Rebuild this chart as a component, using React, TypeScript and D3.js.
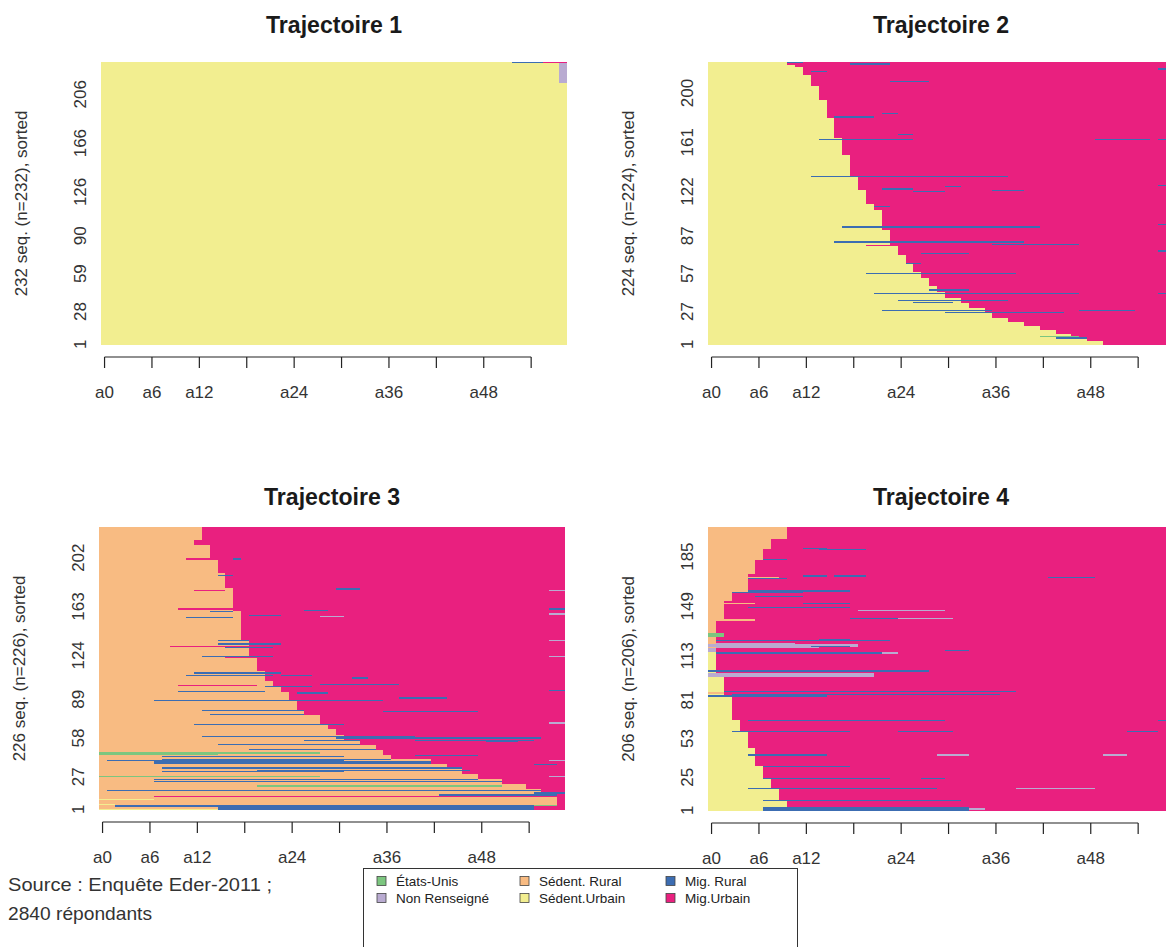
import React from 'react';
import * as d3 from 'd3';

// ---------- states ----------
const STATE_LABELS = ['États-Unis', 'Non Renseigné', 'Sédent. Rural', 'Sédent.Urbain', 'Mig. Rural', 'Mig.Urbain'];
const STATE_COLORS = ['#7cc67f', '#b9abd1', '#f8bb82', '#f2ee90', '#3c6db2', '#e9207f'];
const LEGEND_COLUMNS = [[0, 1], [2, 3], [4, 5]];

// ---------- time axis ----------
const N_COLS = 59;
const AGE_TICKS = [0, 6, 12, 18, 24, 30, 36, 42, 48, 54];
const AGE_TICK_LABELS = ['a0', 'a6', 'a12', '', 'a24', '', 'a36', '', 'a48', ''];

// ---------- Trajectoire 1 ----------
const T1_TITLE = 'Trajectoire 1';
const T1_N = 232;
const T1_YTICKS = [1, 28, 59, 90, 126, 166, 206];
const T1_BASE = [[1, 232, 3]]; // [rowFrom, rowTo, state]
const T1_BOUND: number[][] = []; // [rowFrom, rowTo, first Mig.Urbain column]
const T1_STREAKS = [ // [rowFrom, rowTo, colFrom, colTo, state]
  [232, 232, 52, 55, 4], [232, 232, 56, 58, 5], [216, 231, 58, 58, 1],
];

// ---------- Trajectoire 2 ----------
const T2_TITLE = 'Trajectoire 2';
const T2_N = 224;
const T2_YTICKS = [1, 27, 57, 87, 122, 161, 200];
const T2_BASE = [[1, 224, 3]];
const T2_BOUND = [
  [1, 3, 50], [4, 6, 48], [7, 9, 46], [10, 12, 44], [13, 15, 42], [16, 18, 40], [19, 21, 38],
  [22, 25, 36], [26, 29, 35], [30, 33, 33], [34, 37, 32], [38, 42, 30], [43, 47, 29], [48, 53, 28],
  [54, 58, 27], [59, 64, 26], [65, 71, 25], [72, 78, 24], [79, 91, 23], [92, 107, 22], [108, 112, 21],
  [113, 123, 20], [124, 134, 19], [135, 150, 18], [151, 164, 17], [165, 180, 16], [181, 194, 15],
  [195, 205, 14], [206, 214, 13], [215, 220, 12], [221, 222, 11], [223, 224, 10],
];
const T2_STREAKS = [
  [224, 224, 10, 11, 4], [223, 223, 18, 22, 4], [217, 217, 13, 14, 4], [209, 209, 23, 27, 4],
  [184, 184, 22, 23, 4], [181, 181, 16, 20, 4], [167, 167, 24, 25, 4], [163, 163, 14, 25, 4],
  [163, 163, 49, 55, 4], [134, 134, 13, 37, 4], [126, 126, 30, 31, 4], [124, 124, 22, 25, 4],
  [123, 123, 36, 39, 4], [122, 122, 26, 29, 4], [110, 110, 21, 22, 4], [94, 94, 17, 41, 4],
  [82, 82, 16, 39, 4], [80, 80, 36, 46, 4], [79, 79, 20, 22, 5], [73, 73, 27, 32, 4],
  [65, 65, 25, 26, 4], [57, 57, 20, 38, 4], [44, 44, 28, 32, 4], [41, 41, 21, 46, 4],
  [36, 36, 24, 37, 4], [34, 34, 26, 30, 4], [28, 28, 22, 35, 4], [28, 28, 47, 53, 4],
  [26, 26, 30, 44, 4], [7, 7, 42, 46, 0], [6, 6, 44, 47, 4],
  [219, 219, 57, 58, 4], [163, 163, 57, 58, 4], [127, 127, 57, 58, 4], [96, 96, 57, 58, 4],
  [75, 75, 57, 58, 4], [41, 41, 57, 58, 4],
];

// ---------- Trajectoire 3 ----------
const T3_TITLE = 'Trajectoire 3';
const T3_N = 226;
const T3_YTICKS = [1, 27, 58, 89, 124, 163, 202];
const T3_BASE = [[1, 226, 2]];
const T3_BOUND = [
  [1, 3, 55], [4, 13, 58], [14, 17, 56], [18, 21, 54], [22, 25, 51], [26, 29, 48], [30, 34, 46],
  [35, 37, 44], [38, 41, 42], [42, 44, 37], [45, 48, 36], [49, 52, 35], [53, 56, 33], [57, 60, 31],
  [61, 65, 30], [66, 69, 29], [70, 76, 28], [77, 80, 26], [81, 87, 25], [88, 94, 24], [95, 98, 23],
  [99, 103, 22], [104, 111, 21], [112, 122, 20], [123, 136, 19], [137, 159, 18], [160, 177, 17],
  [178, 189, 16], [190, 200, 15], [201, 212, 14], [213, 216, 12], [217, 226, 13],
];
const T3_STREAKS = [
  [201, 201, 11, 13, 5], [201, 201, 17, 17, 4], [188, 188, 15, 16, 4], [177, 177, 30, 32, 4],
  [176, 176, 12, 15, 5], [161, 161, 10, 16, 5], [160, 160, 26, 28, 4], [159, 159, 14, 16, 4],
  [156, 156, 19, 22, 4], [155, 155, 28, 30, 1], [154, 154, 11, 16, 4], [136, 136, 15, 18, 4],
  [133, 133, 15, 22, 4], [131, 131, 9, 20, 5], [130, 130, 16, 21, 4], [123, 123, 13, 21, 4],
  [122, 122, 16, 19, 5], [110, 110, 12, 22, 4], [108, 108, 11, 21, 4], [108, 108, 23, 26, 4],
  [106, 106, 32, 33, 4], [101, 101, 28, 37, 4], [100, 100, 10, 19, 5], [99, 99, 21, 26, 4],
  [95, 95, 10, 20, 4], [94, 94, 25, 28, 4], [90, 90, 38, 43, 4], [88, 88, 7, 35, 4],
  [80, 80, 13, 25, 4], [79, 79, 36, 47, 4], [77, 77, 14, 25, 4], [69, 69, 12, 30, 4],
  [59, 59, 13, 39, 4], [58, 58, 30, 55, 4], [56, 56, 26, 32, 4], [56, 56, 40, 54, 4],
  [55, 55, 49, 52, 4], [53, 53, 15, 32, 4], [49, 49, 19, 34, 4], [46, 46, 0, 27, 0],
  [45, 45, 0, 14, 0], [44, 44, 40, 47, 4], [43, 43, 8, 30, 4], [41, 41, 8, 36, 4],
  [40, 40, 1, 30, 4], [38, 39, 7, 41, 4], [37, 37, 55, 57, 4], [34, 34, 8, 45, 4],
  [32, 32, 20, 46, 4], [31, 31, 8, 30, 4], [27, 27, 0, 27, 0], [25, 25, 7, 47, 4],
  [23, 23, 7, 50, 4], [19, 20, 20, 50, 0], [16, 16, 1, 48, 4], [16, 16, 49, 55, 4],
  [12, 13, 43, 57, 4], [11, 11, 7, 57, 5], [9, 9, 0, 6, 3], [5, 5, 0, 1, 3],
  [3, 4, 2, 54, 4], [2, 2, 15, 54, 4], [1, 1, 0, 14, 3], [1, 1, 15, 54, 4], [4, 4, 55, 57, 0],
  [176, 176, 57, 58, 1], [161, 161, 57, 58, 4], [157, 157, 57, 58, 1], [136, 136, 57, 58, 1],
  [123, 123, 57, 58, 1], [96, 96, 57, 58, 4], [70, 70, 57, 58, 1], [40, 40, 57, 58, 1],
  [27, 27, 57, 58, 1], [14, 14, 55, 58, 4],
];

// ---------- Trajectoire 4 ----------
const T4_TITLE = 'Trajectoire 4';
const T4_N = 206;
const T4_YTICKS = [1, 25, 53, 81, 113, 149, 185];
const T4_BASE = [[1, 115, 3], [116, 206, 2]];
const T4_BOUND = [
  [1, 8, 10], [9, 17, 9], [18, 24, 8], [25, 33, 7], [34, 46, 6], [47, 57, 5], [58, 66, 4],
  [67, 84, 3], [85, 97, 2], [98, 100, 0], [101, 139, 1], [140, 152, 2], [153, 159, 3],
  [160, 172, 5], [173, 182, 6], [183, 190, 7], [191, 197, 8], [198, 206, 10],
];
const T4_STREAKS = [
  [191, 191, 12, 14, 4], [190, 190, 14, 19, 4], [183, 183, 7, 9, 4], [171, 171, 12, 14, 4],
  [171, 171, 16, 19, 4], [170, 170, 43, 48, 4], [170, 170, 5, 8, 2], [169, 169, 5, 9, 4],
  [160, 160, 5, 17, 4], [159, 159, 3, 11, 4], [156, 156, 6, 11, 4], [151, 151, 2, 5, 2],
  [151, 151, 12, 17, 4], [148, 148, 5, 17, 4], [146, 146, 19, 29, 1], [140, 140, 18, 23, 4],
  [140, 140, 24, 30, 1], [139, 139, 1, 5, 2], [127, 129, 0, 1, 0], [125, 125, 14, 17, 4],
  [124, 124, 1, 22, 4], [122, 122, 1, 10, 1], [120, 121, 0, 18, 1], [120, 120, 13, 17, 4],
  [119, 119, 1, 13, 1], [117, 117, 30, 32, 4], [116, 118, 0, 0, 1], [115, 115, 1, 21, 4],
  [115, 115, 22, 23, 1], [102, 102, 0, 27, 4], [98, 100, 0, 20, 1], [86, 86, 0, 1, 2],
  [87, 87, 2, 38, 4], [85, 85, 3, 36, 4], [84, 84, 0, 14, 4], [66, 66, 5, 29, 4],
  [66, 66, 57, 58, 4], [58, 58, 3, 17, 4], [58, 58, 24, 30, 4], [58, 58, 53, 56, 4],
  [41, 41, 5, 14, 4], [41, 41, 29, 32, 1], [41, 41, 50, 52, 1], [33, 33, 7, 17, 4],
  [24, 24, 7, 15, 4], [24, 24, 16, 22, 4], [24, 24, 27, 29, 4], [17, 17, 5, 28, 4],
  [17, 17, 39, 48, 1], [8, 8, 7, 31, 4], [1, 3, 7, 32, 4], [2, 2, 33, 34, 1],
];

// ---------- notes ----------
const SOURCE_LINES = ['Source : Enquête Eder-2011 ;', '2840 répondants'];
const SOURCE_WIDTHS = [264, 144];

// ---------- helpers ----------
function lookup(ranges: number[][], r: number, fallback: number) {
  const hit = ranges.find(([a, z]) => r >= a && r <= z);
  return hit ? hit[2] : fallback;
}

function buildGrid(n: number, base: number[][], bound: number[][], streaks: number[][]) {
  const grid: number[][] = [];
  for (let r = 1; r <= n; r++) {
    const b = lookup(base, r, 3);
    const cut = lookup(bound, r, N_COLS);
    grid.push(d3.range(N_COLS).map((c) => (c < cut ? b : 5)));
  }
  streaks.forEach(([a, z, c0, c1, s]) => {
    for (let r = a; r <= z; r++) for (let c = c0; c <= c1; c++) grid[r - 1][c] = s;
  });
  return grid;
}

const FONT = '"Liberation Sans", Arial, Helvetica, sans-serif';
const COL_W = 7.9;

type PanelProps = {
  title: string; n: number; yTicks: number[]; grid: number[][];
  left: number; top: number; bottom: number; titleY: number;
};

function Panel({ title, n, yTicks, grid, left, top, bottom, titleY }: PanelProps) {
  const x = d3.scaleLinear().domain([0, N_COLS]).range([left, left + N_COLS * COL_W]);
  const y = d3.scaleLinear().domain([0, n]).range([bottom, top]);
  const rects: React.ReactNode[] = [];
  grid.forEach((row, i) => {
    let start = 0;
    for (let c = 1; c <= N_COLS; c++) {
      if (c === N_COLS || row[c] !== row[start]) {
        rects.push(
          <rect key={`${i}-${start}`} x={x(start)} y={y(i + 1)} width={x(c) - x(start)}
            height={y(i) - y(i + 1)} fill={STATE_COLORS[row[start]]} />
        );
        start = c;
      }
    }
  });
  const axisY = bottom + 12;
  const tx = (k: number) => x(k + 0.45);
  return (
    <g>
      <g shapeRendering="crispEdges">{rects}</g>
      <text x={(x(0) + x(N_COLS)) / 2} y={titleY} textAnchor="middle" fontWeight="bold"
        fontSize={24} textLength={136} lengthAdjust="spacingAndGlyphs" fill="#1a1a1a" fontFamily={FONT}>{title}</text>
      <line x1={tx(AGE_TICKS[0])} x2={tx(AGE_TICKS[AGE_TICKS.length - 1])} y1={axisY} y2={axisY}
        stroke="#222" strokeWidth={1.2} />
      {AGE_TICKS.map((k, i) => (
        <g key={k}>
          <line x1={tx(k)} x2={tx(k)} y1={axisY} y2={axisY + 11} stroke="#222" strokeWidth={1.2} />
          {AGE_TICK_LABELS[i] && (
            <text x={tx(k)} y={bottom + 53} textAnchor="middle" fontSize={17} fill="#333"
              fontFamily={FONT}>{AGE_TICK_LABELS[i]}</text>
          )}
        </g>
      ))}
      {yTicks.map((v) => (
        <text key={v} transform={`translate(${left - 21},${y(v - 0.5)}) rotate(-90)`} textAnchor="middle"
          dominantBaseline="central" fontSize={17} fill="#333" fontFamily={FONT}>{v}</text>
      ))}
      <text transform={`translate(${left - 80},${(top + bottom) / 2}) rotate(-90)`} textAnchor="middle"
        dominantBaseline="central" fontSize={17} fill="#333" fontFamily={FONT}>
        {`${n} seq. (n=${n}), sorted`}
      </text>
    </g>
  );
}

export default function App() {
  const panels = [
    { title: T1_TITLE, n: T1_N, yTicks: T1_YTICKS, grid: buildGrid(T1_N, T1_BASE, T1_BOUND, T1_STREAKS), left: 101, top: 62, bottom: 345, titleY: 33 },
    { title: T2_TITLE, n: T2_N, yTicks: T2_YTICKS, grid: buildGrid(T2_N, T2_BASE, T2_BOUND, T2_STREAKS), left: 708, top: 62, bottom: 345, titleY: 33 },
    { title: T3_TITLE, n: T3_N, yTicks: T3_YTICKS, grid: buildGrid(T3_N, T3_BASE, T3_BOUND, T3_STREAKS), left: 99, top: 527, bottom: 810, titleY: 505 },
    { title: T4_TITLE, n: T4_N, yTicks: T4_YTICKS, grid: buildGrid(T4_N, T4_BASE, T4_BOUND, T4_STREAKS), left: 708, top: 527, bottom: 811, titleY: 505 },
  ];
  const legX = [377, 520, 666];
  const legY = [881, 898];
  return (
    <svg width={1166} height={947} style={{ position: 'absolute', left: 0, top: 0, background: '#fff' }}>
      <rect x={0} y={0} width={1166} height={947} fill="#fff" />
      {panels.map((p) => <Panel key={p.title} {...p} />)}
      {SOURCE_LINES.map((t, i) => (
        <text key={t} x={8} y={891 + i * 29} fontSize={19} textLength={SOURCE_WIDTHS[i]}
          lengthAdjust="spacingAndGlyphs" fill="#333" fontFamily={FONT}>{t}</text>
      ))}
      <rect x={363.5} y={868.5} width={434} height={100} fill="none" stroke="#333" strokeWidth={1} />
      {LEGEND_COLUMNS.map((col, ci) => col.map((s, ri) => (
        <g key={s}>
          <rect x={legX[ci]} y={legY[ri] - 4.5} width={9} height={9} fill={STATE_COLORS[s]} stroke="#444" strokeWidth={0.8} />
          <text x={legX[ci] + 19} y={legY[ri]} dominantBaseline="central" fontSize={13.5} fill="#222"
            fontFamily={FONT}>{STATE_LABELS[s]}</text>
        </g>
      )))}
    </svg>
  );
}
